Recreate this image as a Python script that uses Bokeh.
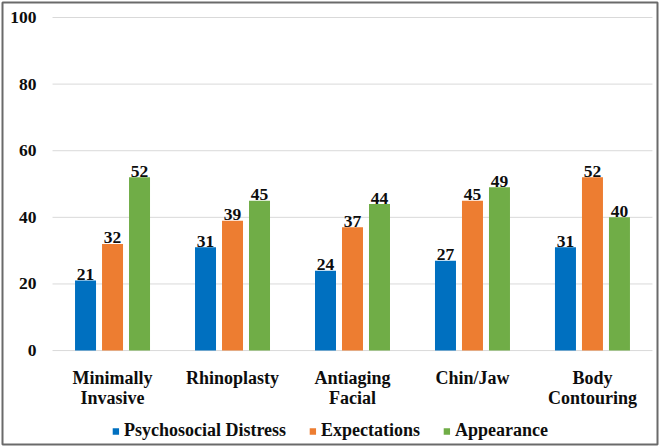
from bokeh.plotting import figure
from bokeh.models import ColumnDataSource, Legend, LegendItem, Range1d
from bokeh.embed import file_html
from bokeh.resources import INLINE
from bokeh.core.properties import value

categories = ["Minimally Invasive", "Rhinoplasty", "Antiaging Facial", "Chin/Jaw", "Body Contouring"]
label_line1 = ["Minimally", "Rhinoplasty", "Antiaging", "Chin/Jaw", "Body"]
label_line2 = ["Invasive", "", "Facial", "", "Contouring"]
series_names = ["Psychosocial Distress", "Expectations", "Appearance"]
psychosocial = [21, 31, 24, 27, 31]
expectations = [32, 39, 37, 45, 52]
appearance = [52, 45, 44, 49, 40]
y_ticks = [0, 20, 40, 60, 80, 100]

colors = ["#0070C0", "#ED7D31", "#70AD47"]
FONT = "Liberation Serif"
TXT = "#0d0d0d"

xs = list(range(len(categories)))
series = [psychosocial, expectations, appearance]

W, H = 659, 446
p = figure(x_range=Range1d(-0.917, 4.542), y_range=Range1d(-28.2, 104.5),
           width=W, height=H, output_backend="svg", toolbar_location=None,
           min_border_left=2, min_border_right=2, min_border_top=2, min_border_bottom=2)
p.xaxis.visible = False
p.yaxis.visible = False
p.xgrid.grid_line_color = None
p.ygrid.grid_line_color = None
p.outline_line_color = "#6a6a6a"
p.outline_line_width = 2

# gridlines at the y ticks
p.segment(x0=[-0.5] * len(y_ticks), x1=[4.5] * len(y_ticks), y0=y_ticks, y1=y_ticks,
          line_color="#d9d9d9", line_width=1)

# y tick labels
p.text(x=[-0.5] * len(y_ticks), y=y_ticks, text=[str(t) for t in y_ticks],
       text_align="right", text_baseline="middle", x_offset=-16,
       text_font=value(FONT), text_font_style="bold", text_font_size="17.5px",
       text_color=TXT)

# category labels (two lines)
p.text(x=xs, y=[0] * len(xs), text=label_line1, text_align="center",
       text_baseline="alphabetic", y_offset=27,
       text_font=value(FONT), text_font_style="bold", text_font_size="18px",
       text_color=TXT)
p.text(x=xs, y=[0] * len(xs), text=label_line2, text_align="center",
       text_baseline="alphabetic", y_offset=47,
       text_font=value(FONT), text_font_style="bold", text_font_size="18px",
       text_color=TXT)

offsets = [-0.225, 0.0, 0.225]
items = []
for i in range(3):
    bx = [x + offsets[i] for x in xs]
    src = ColumnDataSource(dict(x=bx, top=series[i], lab=[str(v) for v in series[i]]))
    r = p.vbar(x="x", top="top", width=0.175, bottom=0, source=src,
               fill_color=colors[i], line_color=None)
    p.text(x="x", y="top", text="lab", source=src,
           text_align="center", text_baseline="alphabetic", y_offset=-6,
           text_font=value(FONT), text_font_style="bold", text_font_size="17.5px",
           text_color=TXT)
    items.append(LegendItem(label=series_names[i], renderers=[r]))

legend = Legend(items=items, orientation="horizontal", location="bottom_center",
                label_text_font=FONT, label_text_font_style="bold",
                label_text_font_size="18px", label_text_color=TXT,
                glyph_width=8, glyph_height=8, label_standoff=5, spacing=22,
                border_line_color=None, background_fill_alpha=0,
                padding=2, margin=3)
p.add_layout(legend, "center")

open("out.html", "w").write(file_html(p, INLINE))
